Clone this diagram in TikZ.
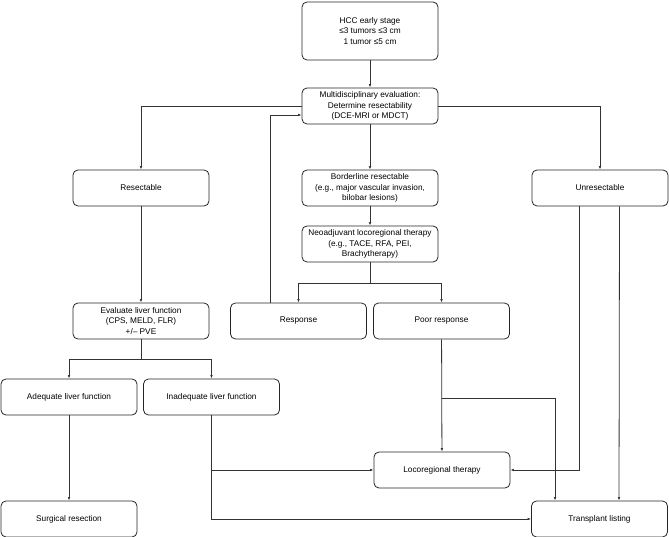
\documentclass[tikz,border=0pt]{standalone}
\usepackage{fontspec}
\setmainfont{Liberation Sans}
\usetikzlibrary{arrows.meta}
\begin{document}
\begin{tikzpicture}[x=1bp,y=1bp,
  every node/.style={font=\fontsize{8.3}{10.8}\selectfont},
  box/.style={draw=black!85,line width=0.8pt,rounded corners=5pt,fill=white,
    minimum width=136bp,minimum height=36bp,align=center,inner sep=1pt},
  link/.style={draw=black!80,line width=0.8pt},
  arr/.style={link,-{Latex[length=3.5pt,width=2.6pt]}}]
\useasboundingbox (0,0) rectangle (669,537);
% top
\node[box,minimum height=58bp] (hcc) at (370,506) {HCC early stage\\≤3 tumors ≤3 cm\\1 tumor ≤5 cm};
\node[box] (multi) at (370,431) {Multidisciplinary evaluation:\\Determine resectability\\(DCE-MRI or MDCT)};
% second row
\node[box] (res) at (141,349) {Resectable};
\node[box] (border) at (370,349) {Borderline resectable\\(e.g., major vascular invasion,\\bilobar lesions)};
\node[box] (unres) at (600,349) {Unresectable};
\node[box] (neo) at (370,293) {Neoadjuvant locoregional therapy\\(e.g., TACE, RFA, PEI,\\Brachytherapy)};
% third row
\node[box] (evalf) at (141,216) {Evaluate liver function\\(CPS, MELD, FLR)\\+/-- PVE};
\node[box] (resp) at (298.5,216) {Response};
\node[box] (poor) at (441.5,216) {Poor response};
\node[box] (adeq) at (69,140) {Adequate liver function};
\node[box] (inadeq) at (211.5,140) {Inadequate liver function};
% outcomes
\node[box] (surg) at (69,18) {Surgical resection};
\node[box] (loco) at (442,67) {Locoregional therapy};
\node[box] (trans) at (599.5,18) {Transplant listing};
\coordinate (nsplit) at (370,254);
\coordinate (esplit) at (141,178);
\coordinate (pbranch) at (441.5,139);
% connectors
\draw[arr] (hcc) -- (multi);
\draw[arr] (multi.west) -| (res.north);
\draw[arr] (multi.east) -| (unres.north);
\draw[arr] (multi) -- (border);
\draw[arr] (border) -- (neo);
\draw[link] (neo.south) -- (nsplit);
\draw[arr] (nsplit) -| (resp.north);
\draw[arr] (nsplit) -| (poor.north);
\draw[arr] ([xshift=-28.5bp]resp.north) |- ([yshift=-9bp]multi.west);
\draw[arr] (res) -- (evalf);
\draw[link] (evalf.south) -- (esplit);
\draw[arr] (esplit) -| (adeq.north);
\draw[arr] (esplit) -| (inadeq.north);
\draw[arr] (adeq) -- (surg);
\draw[arr] (inadeq.south) |- (loco.west);
\draw[arr] (inadeq.south) |- (trans.west);
\draw[arr] (poor) -- (loco);
\draw[arr] (pbranch) -| ([xshift=-44.5bp]trans.north);
\draw[arr] ([xshift=-21bp]unres.south) |- (loco.east);
\draw[arr] ([xshift=19.5bp]unres.south) -- ([xshift=19.5bp]trans.north);
\end{tikzpicture}
\end{document}
